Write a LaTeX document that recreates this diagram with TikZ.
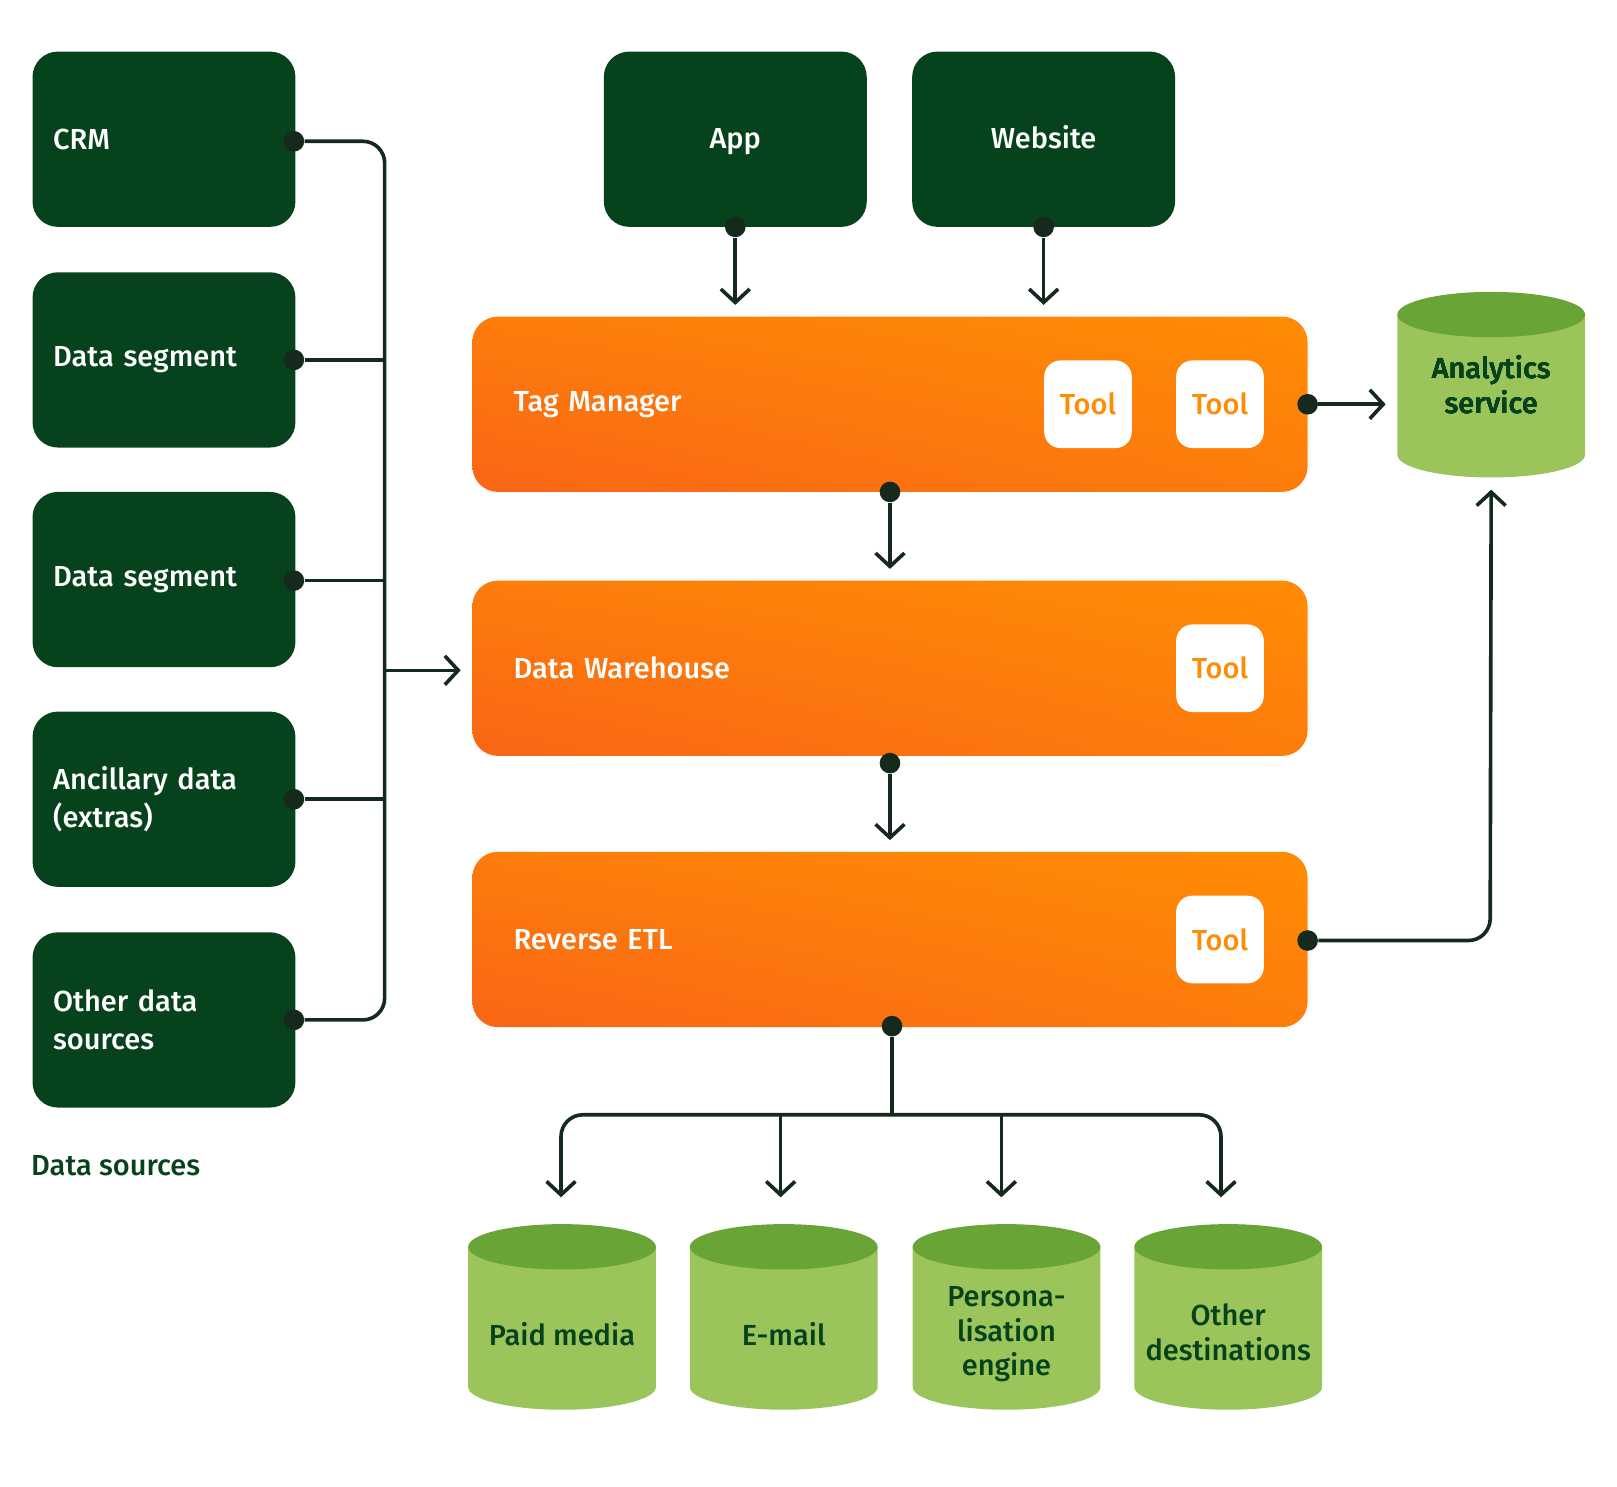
\documentclass[tikz,border=0pt]{standalone}
\usepackage{fontspec}
\setmainfont{Fira Sans}[BoldFont={Fira Sans Medium}]
\usetikzlibrary{arrows.meta, positioning, shapes.geometric, shadings}
\definecolor{darkgreen}{HTML}{06431C}
\definecolor{linecol}{HTML}{15291C}
\definecolor{orangeA}{HTML}{F96515}
\definecolor{orangeB}{HTML}{FF8C05}
\definecolor{cyltop}{HTML}{69A437}
\definecolor{cylbody}{HTML}{9BC45A}
\tikzset{
  source/.style = {fill=darkgreen, rounded corners=14pt, minimum width=5.1cm, minimum height=3.4cm,
    text=white, text width=4.3cm, align=left, font=\fontsize{16}{21}\selectfont\bfseries},
  channel/.style = {source, align=center, text height=2.4ex, text depth=0.45ex},
  stage/.style = {rounded corners=14pt, minimum width=16.2cm, minimum height=3.4cm,
    lower left=orangeA, upper right=orangeB, lower right=orangeB!60!orangeA, upper left=orangeB!60!orangeA,
    text=white, text width=14.6cm, align=left, font=\fontsize{16}{21}\selectfont\bfseries},
  tool/.style = {fill=white, rounded corners=9pt, minimum width=1.7cm, minimum height=1.7cm,
    text=orangeB, font=\fontsize{16}{21}\selectfont\bfseries},
  store/.style = {text=darkgreen, align=center, font=\fontsize{16}{19}\selectfont\bfseries},
  link/.style = {draw=linecol, line width=2pt, rounded corners=12pt},
  flow/.style = {link, shorten >=0.22cm, -{Straight Barb[length=2.6mm, width=5.6mm, line width=2pt]}},
  dot/.style = {circle, fill=linecol, inner sep=0pt, minimum size=0.4cm}
}
\newcommand\drum[1]{% centre of a store
  \fill[cylbody] ([shift={(-91,-68)}]#1) -- ([shift={(-91,68)}]#1)
    arc[start angle=180, end angle=360, x radius=91, y radius=-22] -- ([shift={(91,-68)}]#1) -- cycle;
  \fill[cyltop] ([shift={(0,-68)}]#1) ellipse[x radius=91, y radius=22];}
\begin{document}
\begin{tikzpicture}[x=0.02cm, y=-0.02cm]
  \useasboundingbox (0,0) rectangle (1568,1441);

  % data sources
  \node[source] (crm)   at (159,135) {CRM};
  \node[source] (seg1)  at (159,349) {Data segment};
  \node[source] (seg2)  at (159,562) {Data segment};
  \node[source] (extra) at (159,775) {Ancillary data\\(extras)};
  \node[source] (other) at (159,989) {Other data\\sources};
  \node[text=darkgreen, font=\fontsize{16}{21}\selectfont\bfseries, anchor=west] (srclabel) at (24,1130) {Data sources};

  % channels
  \node[channel] (app) at (713,135) {App};
  \node[channel] (web) at (1012,135) {Website};

  % stages
  \node[stage] (tag) at (863,392) {Tag Manager};
  \node[stage] (dwh) at (863,648) {Data Warehouse};
  \node[stage] (etl) at (863,911) {Reverse ETL};
  \node[tool] (tool1) at (1055,392) {Tool};
  \node[tool] (tool2) at (1183,392) {Tool};
  \node[tool] (tool3) at (1183,648) {Tool};
  \node[tool] (tool4) at (1183,911) {Tool};

  % stores
  \foreach \x/\y in {1446/373, 545/1277, 760/1277, 976/1277, 1191/1277}
    \drum{\x,\y}
  \node[store, minimum width=3.64cm, minimum height=3.62cm] (ana) at (1446,373) {Analytics\\service};
  \node[store] (paid) at (545,1294) {Paid media};
  \node[store] (mail) at (760,1294) {E-mail};
  \node[store] (pers) at (976,1294) {Persona-\\lisation\\engine};
  \node[store] (dest) at (1191,1292) {Other\\destinations};

  % dots
  \foreach \n/\x/\y in {d1/285/137, d2/285/349, d3/285/563, d4/285/775, d5/285/989,
      da/713/220, dw/1012/220, dt/863/477, dd/863/740, de/865/995, dr1/1268/392, dr2/1268/912}
    \node[dot] (\n) at (\x,\y) {};
  \coordinate (bus) at (373,0);
  \coordinate (split) at (865,1081);

  % bus into warehouse
  \draw[link] (d1) -- (373,137) -- (373,989) -- (d5);
  \foreach \n in {d2,d3,d4}
    \draw[link] (\n) -- (\n -| bus);
  \draw[flow] (373,650) -- (dwh.west |- 0,650);

  % vertical flow
  \draw[flow] (da) -- (da |- tag.north);
  \draw[flow] (dw) -- (dw |- tag.north);
  \draw[flow] (dt) -- (dwh.north);
  \draw[flow] (dd) -- (etl.north);
  \draw[flow] (dr1) -- (dr1 -| ana.west);
  \draw[flow] (dr2) -- (1445,912) -- (ana.south);

  % destinations
  \draw[link] (de) -- (split);
  \draw[flow] (split) -| (544,1172);
  \draw[flow] (split) -| (1184,1172);
  \foreach \x in {757,971}
    \draw[flow] (\x,1081) -- (\x,1172);
\end{tikzpicture}
\end{document}
